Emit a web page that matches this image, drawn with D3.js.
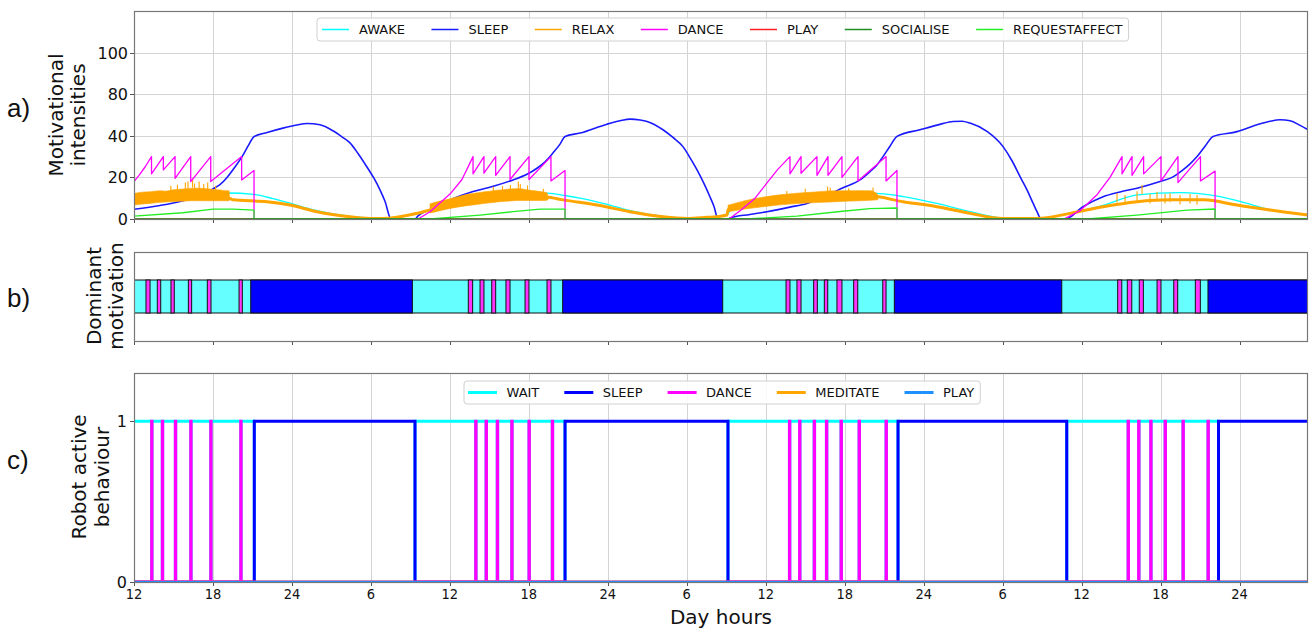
<!DOCTYPE html>
<html><head><meta charset="utf-8">
<script src="https://cdn.jsdelivr.net/npm/d3@7"></script>
<style>
body{margin:0;background:#fff}
svg{display:block}
text{font-family:"DejaVu Sans",sans-serif;fill:#111}
</style>
</head><body>
<svg id="chart" width="1314" height="632"></svg>
<script>
// ---------------- DATA ----------------
const xDomain = [12, 101.2];
const xTickValues = [12,18,24,30,36,42,48,54,60,66,72,78,84,90,96];
const xTickLabels = ["12","18","24","6","12","18","24","6","12","18","24","6","12","18","24"];
const yTickValuesA = [0,20,40,60,80];
const yTickLabelsA = ["0","20","40","80","100"];
const yTickValuesC = [0,1];
const yTickLabelsC = ["0","1"];

const motivationNames = ["AWAKE","SLEEP","RELAX","DANCE","PLAY","SOCIALISE","REQUESTAFFECT"];
const behaviourNames = ["WAIT","SLEEP","DANCE","MEDITATE","PLAY"];

// Panel a) motivational intensities (hours, value)
const awakeT = [12.00,15.50,19.07,21.12,22.56,23.85,25.90,28.41,30.92,32.21,33.50,35.25,36.99,39.58,42.09,43.38,44.75,45.89,47.64,49.69,52.19,54.24,55.54,57.13,57.28,59.79,62.37,64.88,67.92,70.43,73.01,75.52,78.03,80.61,83.12,85.63,88.21,91.48,94.52,97.03,98.32,101.2];
const awakeV = [10,11.3,12.5,11.8,9.8,7.6,4,1.2,0.2,0.8,2.7,5.1,8.5,10.8,12,12.4,11.3,10,7.5,4,1.2,0.3,0.8,2.2,4.3,8,10.5,11.8,12.4,10.8,7.5,3.5,0.5,0.3,2.7,6.5,11.6,12.7,10.8,6.7,4.5,2];

const sleepT = [12.00,13.98,15.65,17.62,18.00,18.53,19.07,19.67,20.21,20.66,21.12,22.11,23.32,24.38,25.14,26.13,27.12,27.80,28.41,29.02,29.70,30.24,30.69,31.07,31.53,33.35,33.58,34.49,36.01,37.76,39.43,40.80,41.86,42.62,43.23,43.84,44.37,44.75,45.89,47.94,48.93,49.69,50.45,50.98,52.19,52.95,53.71,54.24,54.78,55.31,55.76,56.07,56.37,57.21,57.28,58.80,60.09,61.84,63.13,64.50,65.87,67.16,67.92,68.45,68.91,69.44,69.97,71.72,73.24,74.23,74.91,75.52,76.81,78.03,78.71,79.32,79.85,80.31,80.61,80.92,82.74,84.11,85.63,86.92,88.21,89.96,90.87,91.70,92.24,92.77,93.38,93.99,95.81,97.33,98.32,99.08,99.84,100.60,101.2];
const sleepV = [4.7,6.5,8.7,13,14.5,16.5,20,25,30,35,39.6,41.6,43.7,45.2,45.9,45.3,42.4,39.5,36.6,31.5,25,19.5,14,8.5,0,0,1.5,4.5,9.2,13.2,16,18.8,21.5,24.4,27.5,31.8,36,39.7,41.3,45.6,47.2,48,47.6,46.9,42.9,39.2,34.8,29.5,23.6,17,10.7,6,0,0,0.5,2.2,3.5,5.7,7.5,11,15,18.8,22.8,26,30,35,39.7,42.9,45.5,46.9,47,46.1,42.1,34.8,28,20.4,14,7.6,3.5,0,0,5.9,10.7,13,14.8,18,20,23.6,26.5,30,35,39.7,42,45.3,47,47.7,47.2,45,42.9];

const relaxT = [12.00,13.98,16.26,19.22,19.52,22.11,23.85,25.90,28.41,29.93,30.92,33.50,34.49,36.99,39.58,42.09,43.38,44.60,47.18,49.69,52.19,54.01,55.54,56.30,57.06,57.13,59.79,62.37,64.88,67.92,70.43,73.01,75.52,78.03,80.61,83.12,85.63,88.21,90.78,93.29,95.81,98.32,101.2];
const relaxV = [9.5,10,10.5,10,9.2,8.3,6.7,3.5,1.1,0.3,0.2,2.7,4.3,8.5,10.3,11,10.6,9.2,6.7,3.5,1.1,0.3,0.8,1.1,1.9,4.5,7.8,9.5,10.5,11,8.3,5.9,2.7,0.3,0.3,2.7,5.9,8.3,9.2,9.2,6.7,4.3,1.9];
// noisy RELAX bands (hours, lower edge, upper edge of the dense noise)
const relaxBand1T = [12.00,12.61,13.22,13.98,14.43,14.89,15.50,16.03,16.48,17.01,17.55,18.00,18.53,18.91,19.22,19.26];
const relaxBand1Lo = [6.7,7.2,7.5,8.0,8.2,8.3,8.5,8.7,8.8,8.8,8.8,8.8,8.8,8.8,8.8,9.2];
const relaxBand1Hi = [12.2,12.9,13.1,13.6,13.4,14.0,14.3,14.6,14.8,14.8,14.5,14.2,14.0,13.6,13.6,10];
const relaxBand2T = [34.49,35.25,36.01,37.15,38.29,39.05,39.58,40.19,40.80,41.33,41.71,42.09,42.85,43.38,43.46];
const relaxBand2Lo = [2.9,4.0,5.1,6.3,7.2,7.8,8.2,8.5,8.8,8.9,8.9,8.9,8.9,9.0,9.4];
const relaxBand2Hi = [7.3,8.6,9.7,11.6,12.8,13.4,13.8,14.2,14.5,14.6,14.2,13.8,13.2,12.6,10];
const relaxBand3T = [57.13,58.42,59.79,61.08,62.37,63.74,64.88,66.40,67.92,68.45,68.53];
const relaxBand3Lo = [3.5,4.8,5.9,6.8,7.4,7.9,8.2,8.6,9.0,9.2,9.5];
const relaxBand3Hi = [6.6,8.8,10.5,11.6,12.4,13.0,13.5,13.6,13.6,12.2,10.5];
// isolated tall RELAX spikes (hours, top value)
const relaxSpikeT = [14.80,15.30,15.90,16.10,16.45,16.60,16.95,17.30,17.60,18.20,39.30,40.00,40.60,41.20,41.35,41.90,43.10,61.60,63.00,64.70,64.90,66.30,68.15,86.69,87.30,88.21,88.59,89.20,89.73,90.34,90.72,91.48,92.24,92.77];
const relaxSpikeV = [16,16.5,17.5,18,19.6,17,18,16.8,17.5,16,15.5,15.8,16.4,18,16.8,16.2,14.5,13.5,14.5,15.6,15,14.8,15.2,12.4,11.5,13.3,16.4,12,13,12,12.5,11.5,12,11.5];

const danceT = [12.00,12.38,12.84,13.33,13.33,14.23,14.23,15.12,15.12,16.31,16.31,17.83,17.83,20.18,20.18,21.12,21.12,33.58,34.49,36.01,36.92,37.76,37.76,38.59,38.59,39.48,39.48,40.57,40.57,42.01,42.01,43.68,43.68,44.75,44.75,57.21,58.05,59.19,60.17,60.93,61.84,61.84,62.68,62.68,63.89,63.89,64.73,64.73,65.79,65.79,67.01,67.01,69.14,69.14,69.97,69.97,82.66,83.88,85.17,86.16,87.07,87.07,87.83,87.83,88.71,88.71,90.03,90.03,91.32,91.32,93.03,93.03,94.14,94.14,101.2];
const danceV = [18,21,25,30,21.7,30,23.6,30,19.5,30,18,30,18,30,18.8,23.3,0,0,3.5,12,19,30,21.7,30,22,30,21,30,19,30,19,30,18.3,23.3,0,0,4,10,18,24,30,21.7,30,22,30,21,30,21,30,20,30,18.3,30,18.3,23.3,0,0,4,11.7,20,30,21.7,30,21,30,21.7,30,18.3,30,17.5,30,18.3,23,0,0];

const playT = [12, 101.2];
const playV = [0, 0];
const socialiseT = [12, 101.2];
const socialiseV = [0, 0];

const requestT = [12.00,15.72,18.00,19.52,21.12,21.12,34.49,38.29,40.80,42.85,44.75,44.75,58.58,62.37,65.64,67.92,69.97,69.97,84.41,88.21,92.01,94.14,94.14,101.2];
const requestV = [1.4,3,4.7,4.7,4.3,0,0,1.9,3.5,4.7,4.7,0,0,1.4,3.6,5.0,5.3,0,0,1.9,4.3,4.8,0,0];

// Panel b) dominant motivation intervals (hours)
const domSleep = [[20.87,33.15],[44.57,56.73],[69.77,82.49],[93.60,101.2]];
const domDance = [[12.91,13.22],[13.77,14.03],[14.81,15.06],[16.13,16.38],[17.57,17.85],[19.98,20.23],
  [37.40,37.73],[38.29,38.59],[39.18,39.48],[40.26,40.57],[41.71,42.01],[43.38,43.68],
  [61.54,61.84],[62.37,62.68],[63.64,63.92],[64.45,64.71],[65.41,65.79],[66.68,66.99],[68.89,69.14],
  [86.74,87.05],[87.47,87.81],[88.38,88.69],[89.73,90.03],[91.00,91.30],[92.64,93.02]];

// Panel c) robot active behaviour
const sleepBehaviour = [[21.14,33.35],[44.75,57.13],[70.05,82.87],[94.40,101.2]];
const danceBehaviour = [13.34,14.15,15.14,16.31,17.83,20.11,37.96,38.75,39.60,40.70,42.01,43.78,61.80,62.57,63.68,64.61,65.72,67.09,69.14,87.53,88.33,89.25,90.34,91.70,93.60];

// ---------------- STYLE / LAYOUT ----------------
const motColors = {AWAKE:"#00ffff",SLEEP:"#1a1aff",RELAX:"#ffa500",DANCE:"#ff00ff",PLAY:"#ff2020",SOCIALISE:"#1f8f1f",REQUESTAFFECT:"#22ee22"};
const behColors = {WAIT:"#00ffff",SLEEP:"#0000ff",DANCE:"#ff00ff",MEDITATE:"#ffa500",PLAY:"#1e90ff"};
const L = 134, R = 1308;
const A = {top:11, bottom:219};
const B = {top:252, bottom:341, barTop:280, barBottom:313};
const C = {top:373, bottom:582};
const spine = "#777", grid = "#d4d4d4";

const svg = d3.select("#chart");
const x = d3.scaleLinear().domain(xDomain).range([L, R]);
const yA = d3.scaleLinear().domain([0,100]).range([A.bottom, A.top]);
const yC = d3.scaleLinear().domain([0,1.3]).range([C.bottom, C.top]);
const px = v => Math.round(v) + 0.5;

const defs = svg.append("defs");
[["clipA",A.top,A.bottom],["clipB",B.top,B.bottom],["clipC",C.top,C.bottom]].forEach(([id,t,b])=>{
  defs.append("clipPath").attr("id",id).append("rect").attr("x",L).attr("y",t).attr("width",R-L).attr("height",b-t);
});

function vgrid(top, bottom){
  svg.append("g").selectAll("line").data(xTickValues).join("line")
    .attr("x1",d=>px(x(d))).attr("x2",d=>px(x(d))).attr("y1",top).attr("y2",bottom)
    .attr("stroke",grid).attr("stroke-width",1);
}
function xticks(bottom){
  svg.append("g").selectAll("line").data(xTickValues).join("line")
    .attr("x1",d=>px(x(d))).attr("x2",d=>px(x(d))).attr("y1",bottom).attr("y2",bottom+4)
    .attr("stroke","#555").attr("stroke-width",1);
}
function frame(top,bottom){
  svg.append("rect").attr("x",L+0.5).attr("y",top+0.5).attr("width",R-L-1).attr("height",bottom-top)
    .attr("fill","none").attr("stroke",spine).attr("stroke-width",1.2);
}

// ======== Panel a ========
vgrid(A.top, A.bottom);
svg.append("g").selectAll("line").data(yTickValuesA).join("line")
  .attr("x1",L).attr("x2",R).attr("y1",d=>px(yA(d))).attr("y2",d=>px(yA(d)))
  .attr("stroke",grid);
const gA = svg.append("g").attr("clip-path","url(#clipA)");
const lineA = d3.line().x(d=>x(d[0])).y(d=>yA(d[1]));
const smoothA = d3.line().x(d=>x(d[0])).y(d=>yA(d[1])).curve(d3.curveMonotoneX);
const areaA = d3.area().x(d=>x(d[0])).y0(d=>yA(d[1])).y1(d=>yA(d[2])).curve(d3.curveMonotoneX);
function drawA(T,V,color,w,smooth){
  gA.append("path").datum(d3.zip(T,V)).attr("d",smooth?smoothA:lineA).attr("fill","none")
    .attr("stroke",color).attr("stroke-width",w).attr("stroke-linejoin","round");
}
drawA(awakeT, awakeV, motColors.AWAKE, 1.3, true);
drawA(sleepT, sleepV, motColors.SLEEP, 1.6, true);
[[relaxBand1T,relaxBand1Lo,relaxBand1Hi],[relaxBand2T,relaxBand2Lo,relaxBand2Hi],[relaxBand3T,relaxBand3Lo,relaxBand3Hi]].forEach(([T,Lo,Hi])=>{
  gA.append("path").datum(d3.zip(T,Lo,Hi)).attr("d",areaA).attr("fill",motColors.RELAX).attr("stroke",motColors.RELAX).attr("stroke-width",0.6);
});
gA.append("g").selectAll("line").data(d3.zip(relaxSpikeT,relaxSpikeV)).join("line")
  .attr("x1",d=>x(d[0])).attr("x2",d=>x(d[0])).attr("y1",d=>yA(d[1]-4.5)).attr("y2",d=>yA(d[1]))
  .attr("stroke",motColors.RELAX).attr("stroke-width",1.1);
drawA(relaxT, relaxV, motColors.RELAX, 3, true);
drawA(danceT, danceV, motColors.DANCE, 1.3, false);
drawA(playT, playV, motColors.PLAY, 1.5, false);
drawA(requestT, requestV, motColors.REQUESTAFFECT, 1.3, false);
drawA(socialiseT, socialiseV, motColors.SOCIALISE, 1.6, false);

svg.append("g").selectAll("line").data(yTickValuesA).join("line")
  .attr("x1",L-4).attr("x2",L).attr("y1",d=>px(yA(d))).attr("y2",d=>px(yA(d))).attr("stroke","#555");
svg.append("g").selectAll("text").data(d3.zip(yTickValuesA,yTickLabelsA)).join("text")
  .attr("x",L-6).attr("y",d=>yA(d[0])+6).attr("text-anchor","end").attr("font-size",16).text(d=>d[1]);
xticks(A.bottom);
frame(A.top, A.bottom);

// legend a
(function(){
  const g = svg.append("g");
  const box = g.append("rect").attr("x",317).attr("y",18).attr("height",23).attr("rx",3)
    .attr("fill","#fff").attr("fill-opacity",0.85).attr("stroke","#d0d0d0");
  let cx = 322; const cy = 29.5;
  motivationNames.forEach(n=>{
    g.append("line").attr("x1",cx).attr("x2",cx+27).attr("y1",cy).attr("y2",cy)
      .attr("stroke",motColors[n]).attr("stroke-width",1.5);
    const t = g.append("text").attr("x",cx+37).attr("y",cy+4.8).attr("font-size",13).text(n);
    const w = t.node().getComputedTextLength();
    cx = cx + 37 + w + 26.5;
  });
  box.attr("width", cx - 26.5 + 6 - 317);
})();

// ======== Panel b ========
const gB = svg.append("g").attr("clip-path","url(#clipB)");
gB.append("rect").attr("x",x(xDomain[0])).attr("width",x(xDomain[1])-x(xDomain[0]))
  .attr("y",B.barTop).attr("height",B.barBottom-B.barTop)
  .attr("fill","#66ffff").attr("stroke","#111").attr("stroke-width",1);
gB.selectAll("rect.s").data(domSleep).join("rect").attr("class","s")
  .attr("x",d=>x(d[0])).attr("width",d=>x(d[1])-x(d[0]))
  .attr("y",B.barTop).attr("height",B.barBottom-B.barTop)
  .attr("fill","#0000ff").attr("stroke","#111").attr("stroke-width",1);
gB.selectAll("rect.d").data(domDance).join("rect").attr("class","d")
  .attr("x",d=>x(d[0])).attr("width",d=>x(d[1])-x(d[0]))
  .attr("y",B.barTop).attr("height",B.barBottom-B.barTop)
  .attr("fill","#ff33ff").attr("stroke","#111").attr("stroke-width",1);
xticks(B.bottom);
frame(B.top, B.bottom);

// ======== Panel c ========
vgrid(C.top, C.bottom);
const gC = svg.append("g").attr("clip-path","url(#clipC)");
const lineC = d3.line().x(d=>x(d[0])).y(d=>yC(d[1]));
const pulse = 0.03;
// step series built from the interval lists
const sleepSeries = [[xDomain[0],0]];
sleepBehaviour.forEach(([a,b])=>{ sleepSeries.push([a,0],[a,1],[b,1]); if(b<xDomain[1]) sleepSeries.push([b,0]); });
if (sleepSeries[sleepSeries.length-1][0] < xDomain[1]) sleepSeries.push([xDomain[1], sleepSeries[sleepSeries.length-1][1]]);
const danceSeries = [[xDomain[0],0]];
danceBehaviour.forEach(t=>danceSeries.push([t,0],[t,1],[t+pulse,1],[t+pulse,0]));
danceSeries.push([xDomain[1],0]);
const waitEvents = [];
sleepBehaviour.forEach(([a,b])=>waitEvents.push([a,b]));
danceBehaviour.forEach(t=>waitEvents.push([t,t+pulse]));
waitEvents.sort((p,q)=>p[0]-q[0]);
const waitSeries = [[xDomain[0],1]];
waitEvents.forEach(([a,b])=>{ waitSeries.push([a,1],[a,0],[b,0]); if(b<xDomain[1]) waitSeries.push([b,1]); });
const meditateSeries = [[xDomain[0],0],[xDomain[1],0]];
const playSeries = [[xDomain[0],0],[xDomain[1],0]];
function drawC(data,color,w){
  gC.append("path").datum(data).attr("d",lineC).attr("fill","none").attr("stroke",color).attr("stroke-width",w);
}
drawC(waitSeries, behColors.WAIT, 3);
drawC(sleepSeries, behColors.SLEEP, 3);
drawC(danceSeries, behColors.DANCE, 3);
drawC(meditateSeries, behColors.MEDITATE, 2.5);
drawC(playSeries, behColors.PLAY, 2);

svg.append("g").selectAll("line").data(yTickValuesC).join("line")
  .attr("x1",L-4).attr("x2",L).attr("y1",d=>px(yC(d))).attr("y2",d=>px(yC(d))).attr("stroke","#555");
svg.append("g").selectAll("text").data(d3.zip(yTickValuesC,yTickLabelsC)).join("text")
  .attr("x",L-7).attr("y",d=>yC(d[0])+6).attr("text-anchor","end").attr("font-size",16).text(d=>d[1]);
xticks(C.bottom);
svg.append("g").selectAll("text").data(d3.zip(xTickValues,xTickLabels)).join("text")
  .attr("x",d=>x(d[0])).attr("y",598.5).attr("text-anchor","middle")
  .attr("font-size",14.5).style("font-family",'"DejaVu Sans Condensed","DejaVu Sans",sans-serif')
  .style("font-stretch","condensed").text(d=>d[1]);
frame(C.top, C.bottom);

// legend c
(function(){
  const g = svg.append("g");
  const box = g.append("rect").attr("x",464).attr("y",381).attr("height",23).attr("rx",3)
    .attr("fill","#fff").attr("fill-opacity",0.85).attr("stroke","#d0d0d0");
  let cx = 468; const cy = 392.5;
  behaviourNames.forEach(n=>{
    g.append("line").attr("x1",cx).attr("x2",cx+29).attr("y1",cy).attr("y2",cy)
      .attr("stroke",behColors[n]).attr("stroke-width",3);
    const t = g.append("text").attr("x",cx+38.5).attr("y",cy+4.8).attr("font-size",13).text(n);
    const w = t.node().getComputedTextLength();
    cx = cx + 38.5 + w + 25;
  });
  box.attr("width", cx - 25 + 6 - 464);
})();

// ======== Titles ========
function ylab(lines, xs, cy){
  lines.forEach((s,i)=>{
    svg.append("text").attr("transform",`translate(${xs[i]},${cy}) rotate(-90)`)
      .attr("text-anchor","middle").attr("font-size",20).text(s);
  });
}
ylab(["Motivational","intensities"],[63,85],115);
ylab(["Dominant","motivation"],[101,123],296);
ylab(["Robot active","behaviour"],[86,108.5],477);
svg.append("text").attr("x",721).attr("y",624).attr("text-anchor","middle").attr("font-size",20).text("Day hours");
[["a)",117],["b)",307],["c)",469]].forEach(([s,y])=>{
  svg.append("text").attr("x",7).attr("y",y).attr("font-size",26)
    .style("font-family",'"Liberation Sans",Arial,sans-serif').text(s);
});
</script>
</body></html>
